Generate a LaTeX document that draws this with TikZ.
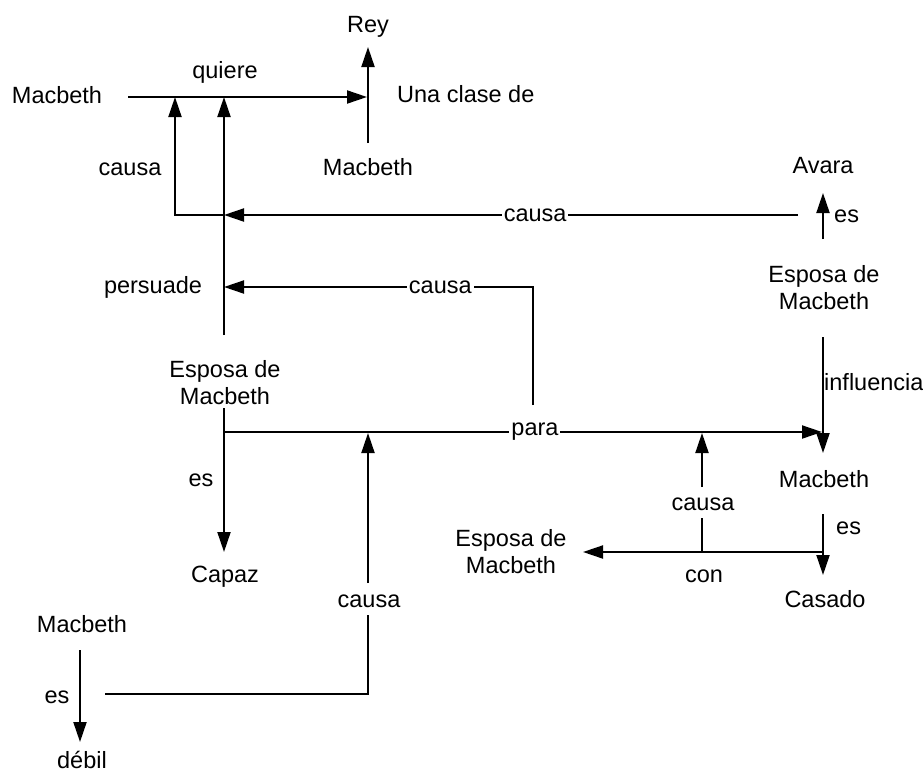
\documentclass[tikz,border=0pt]{standalone}
\usepackage{fontspec}
\setmainfont{Liberation Sans}
\usetikzlibrary{arrows.meta}
\begin{document}
\begin{tikzpicture}[x=1pt,y=-1pt,
  txt/.style={font=\fontsize{23.5}{27}\selectfont, inner sep=0pt, align=center},
  bt/.style={txt, anchor=base},
  btw/.style={txt, anchor=base west},
  onl/.style={txt, fill=white, inner xsep=2pt, inner ysep=1pt},
  ln/.style={line width=2pt},
  arr/.style={line width=2pt, -{Triangle[length=20pt,width=13pt]}}]
\useasboundingbox (0,0) rectangle (923,774);

% concept and relation texts
\node[bt]  (rey)    at (368,32)  {Rey};
\node[bt]  (mac1)   at (57,103)  {Macbeth};
\node[bt]  (quiere) at (225,78)  {quiere};
\node[btw] (una)    at (397,102) {Una clase de};
\node[bt]  (mac2)   at (368,175) {Macbeth};
\node[bt]  (causa1) at (130,175) {causa};
\node[bt]  (avara)  at (823,173) {Avara};
\node[btw] (es1)    at (834,222) {es};
\node[txt] (esp1)   at (824,288) {Esposa de\\Macbeth};
\node[bt]  (persuade) at (153,293) {persuade};
\node[txt] (esp2)   at (225,383) {Esposa de\\Macbeth};
\node[btw] (influ)  at (824,390) {influencia};
\node[bt]  (mac3)   at (824,487) {Macbeth};
\node[bt]  (es2)    at (201,486) {es};
\node[bt]  (causa4) at (703,510) {causa};
\node[btw] (es3)    at (836,534) {es};
\node[txt] (esp3)   at (511,552) {Esposa de\\Macbeth};
\node[bt]  (con)    at (704,582) {con};
\node[bt]  (capaz)  at (225,582) {Capaz};
\node[bt]  (casado) at (825,607) {Casado};
\node[bt]  (causa5) at (369,607) {causa};
\node[bt]  (mac4)   at (82,632)  {Macbeth};
\node[bt]  (es4)    at (57,703)  {es};
\node[bt]  (debil)  at (82,768)  {débil};

% junction coordinates
\coordinate (q0) at (128,97);
\coordinate (q1) at (367,97);
\coordinate (r0) at (368,143);
\coordinate (r1) at (368,47);
\coordinate (p0) at (224,335);
\coordinate (p1) at (224,97);
\coordinate (pm) at (224,215);
\coordinate (c1a) at (175,215);
\coordinate (c1b) at (175,97);
\coordinate (c2a) at (798,215);
\coordinate (a0) at (823,239);
\coordinate (a1) at (823,193);
\coordinate (c3a) at (533,405);
\coordinate (c3b) at (533,287);
\coordinate (c3c) at (224,287);
\coordinate (e0) at (224,408);
\coordinate (e1) at (224,552);
\coordinate (pa0) at (224,432);
\coordinate (pa1) at (822,432);
\coordinate (i0) at (823,337);
\coordinate (i1) at (823,453);
\coordinate (c5a) at (105,694);
\coordinate (c5b) at (368,694);
\coordinate (c5c) at (368,615);
\coordinate (c5d) at (368,583);
\coordinate (c5e) at (368,433);
\coordinate (d0) at (80,650);
\coordinate (d1) at (80,742);
\coordinate (m0) at (823,514);
\coordinate (m1) at (823,575);
\coordinate (k0) at (823,552);
\coordinate (k1) at (583,552);
\coordinate (c4a) at (702,552);
\coordinate (c4b) at (702,518);
\coordinate (c4c) at (702,487);
\coordinate (c4d) at (702,433);

% connectors
\draw[arr] (q0) -- (q1);
\draw[arr] (r0) -- (r1);
\draw[arr] (p0) -- (p1);
\draw[arr] (pm) -- (c1a) -- (c1b);
\draw[arr] (c2a) -- node[onl, pos=0.458] (causa2) {causa} (pm);
\draw[arr] (a0) -- (a1);
\draw[arr] (c3a) -- (c3b) -- node[onl, pos=0.3] (causa3) {causa} (c3c);
\draw[arr] (e0) -- (e1);
\draw[arr] (pa0) -- node[onl, pos=0.52] (para) {para} (pa1);
\draw[arr] (i0) -- (i1);
\draw[ln]  (c5a) -- (c5b) -- (c5c);
\draw[arr] (c5d) -- (c5e);
\draw[arr] (d0) -- (d1);
\draw[arr] (m0) -- (m1);
\draw[arr] (k0) -- (k1);
\draw[ln]  (c4a) -- (c4b);
\draw[arr] (c4c) -- (c4d);
\end{tikzpicture}
\end{document}
